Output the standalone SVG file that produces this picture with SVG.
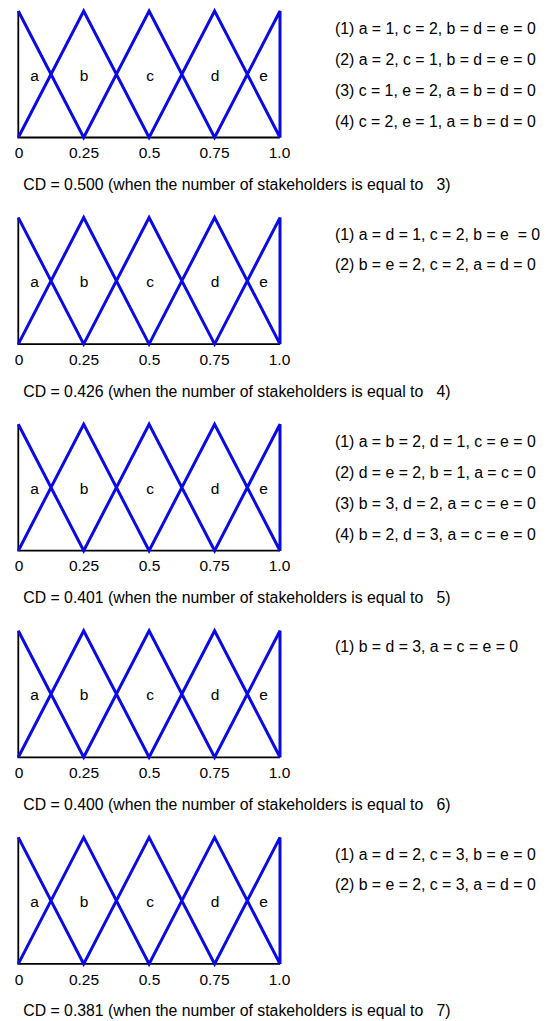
<svg xmlns="http://www.w3.org/2000/svg" width="550" height="1021" viewBox="0 0 550 1021">
<style>
text{font-family:"Liberation Sans",Arial,sans-serif;fill:#000;white-space:pre}
.lbl{font-size:15.5px;text-anchor:middle}
.tick{font-size:15.5px;text-anchor:middle}
.cd{font-size:15.8px}
.eq{font-size:15.8px}
.blk{stroke:#000;stroke-width:1.8;fill:none}
.blu{stroke:#0a0ae6;stroke-width:3;fill:none;stroke-linejoin:miter}
</style>
<defs>
<g id="chart">
<path class="blk" d="M18.3,0 V126.5 H280"/>
<path class="blu" d="M18.3,0 L83.7,126.5 L149.1,0 L214.6,126.5 L280,0 V126.5 L214.6,0 L149.1,126.5 L83.7,0 L18.3,126.5"/>
<text class="lbl" x="34.5" y="69.5">a</text>
<text class="lbl" x="84" y="69.5">b</text>
<text class="lbl" x="150" y="69.5">c</text>
<text class="lbl" x="215" y="69.5">d</text>
<text class="lbl" x="263.5" y="69.5">e</text>
<text class="tick" x="19" y="147.3">0</text>
<text class="tick" x="84" y="147.3">0.25</text>
<text class="tick" x="149.5" y="147.3">0.5</text>
<text class="tick" x="214.5" y="147.3">0.75</text>
<text class="tick" x="279.5" y="147.3">1.0</text>
</g>
</defs>
<g id="panel1" transform="translate(0,11)">
<use href="#chart"/>
<text class="eq" x="335" y="22.5">(1) a = 1, c = 2, b = d = e = 0</text>
<text class="eq" x="335" y="53.5">(2) a = 2, c = 1, b = d = e = 0</text>
<text class="eq" x="335" y="84.5">(3) c = 1, e = 2, a = b = d = 0</text>
<text class="eq" x="335" y="115.5">(4) c = 2, e = 1, a = b = d = 0</text>
<text class="cd" x="23.3" y="179">CD = 0.500 (when the number of stakeholders is equal to   3)</text>
</g>
<g id="panel2" transform="translate(0,217.6)">
<use href="#chart"/>
<text class="eq" x="335" y="22">(1) a = d = 1, c = 2, b = e  = 0</text>
<text class="eq" x="335" y="52">(2) b = e = 2, c = 2, a = d = 0</text>
<text class="cd" x="23.3" y="179">CD = 0.426 (when the number of stakeholders is equal to   4)</text>
</g>
<g id="panel3" transform="translate(0,424.2)">
<use href="#chart"/>
<text class="eq" x="335" y="22.5">(1) a = b = 2, d = 1, c = e = 0</text>
<text class="eq" x="335" y="53.5">(2) d = e = 2, b = 1, a = c = 0</text>
<text class="eq" x="335" y="84.5">(3) b = 3, d = 2, a = c = e = 0</text>
<text class="eq" x="335" y="115.5">(4) b = 2, d = 3, a = c = e = 0</text>
<text class="cd" x="23.3" y="179">CD = 0.401 (when the number of stakeholders is equal to   5)</text>
</g>
<g id="panel4" transform="translate(0,630.8)">
<use href="#chart"/>
<text class="eq" x="335" y="21">(1) b = d = 3, a = c = e = 0</text>
<text class="cd" x="23.3" y="179">CD = 0.400 (when the number of stakeholders is equal to   6)</text>
</g>
<g id="panel5" transform="translate(0,837.4)">
<use href="#chart"/>
<text class="eq" x="335" y="22.5">(1) a = d = 2, c = 3, b = e = 0</text>
<text class="eq" x="335" y="52.5">(2) b = e = 2, c = 3, a = d = 0</text>
<text class="cd" x="23.3" y="179">CD = 0.381 (when the number of stakeholders is equal to   7)</text>
</g>
</svg>
